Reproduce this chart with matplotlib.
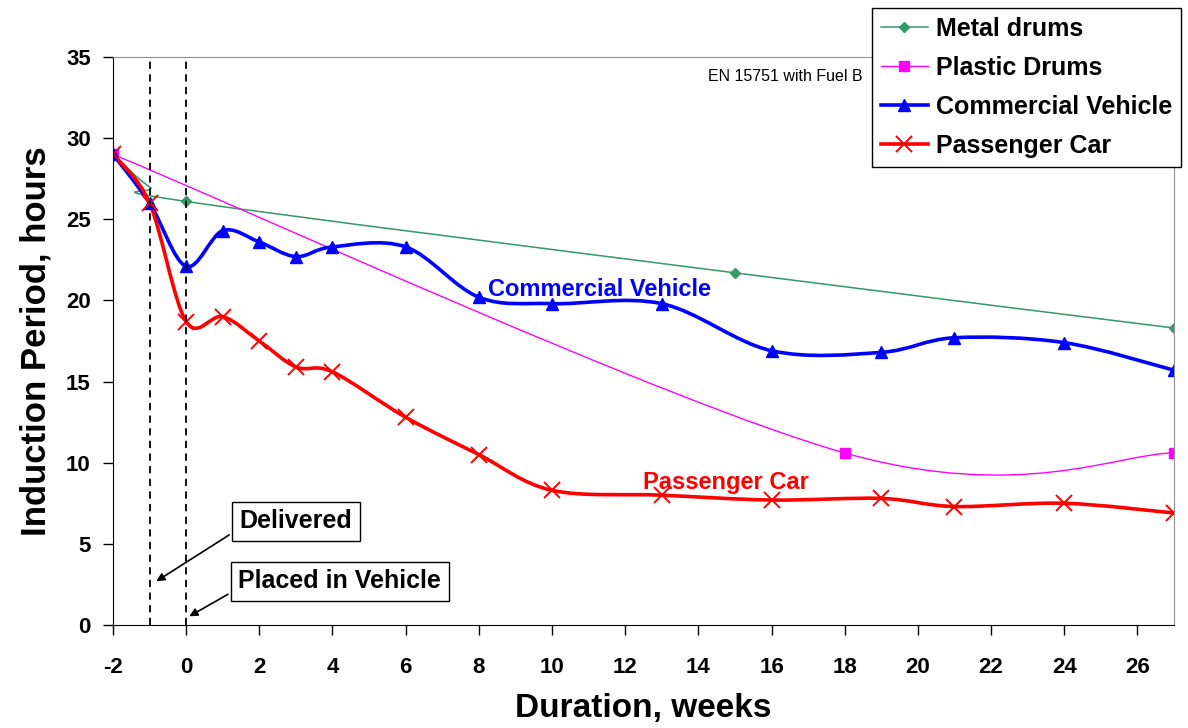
import matplotlib
matplotlib.use("Agg")
import matplotlib.pyplot as plt
from matplotlib.path import Path
from matplotlib.patches import PathPatch
from matplotlib.lines import Line2D

plt.rcParams['font.family'] = ['Liberation Sans', 'DejaVu Sans']
plt.rcParams['axes.unicode_minus'] = False

# data
metal_x = [-2, -1, 0, 15, 27]
metal_y = [29.0, 27.0, 26.1, 21.7, 18.3]

plastic_x = [-2, 18, 27]
plastic_y = [29.0, 10.6, 10.6]

commercial_x = [-2, -1, 0, 1, 2, 3, 4, 6, 8, 10, 13, 16, 19, 21, 24, 27]
commercial_y = [29.0, 26.0, 22.1, 24.3, 23.6, 22.7, 23.3, 23.3, 20.2, 19.8,
                19.8, 16.9, 16.8, 17.7, 17.4, 15.7]

passenger_x = [-2, -1, 0, 1, 2, 3, 4, 6, 8, 10, 13, 16, 19, 21, 24, 27]
passenger_y = [29.0, 26.0, 18.7, 19.0, 17.5, 15.9, 15.6, 12.8, 10.5, 8.3,
               8.0, 7.7, 7.8, 7.3, 7.5, 6.9]

xticks = list(range(-2, 27, 2))
yticks = list(range(0, 36, 5))


def smooth_path(xs, ys):
    # excel-style smoothed line: cubic bezier segments through the points
    n = len(xs)
    verts = [(xs[0], ys[0])]
    codes = [Path.MOVETO]
    for i in range(n - 1):
        a = max(i - 1, 0)
        b = min(i + 2, n - 1)
        c1 = (xs[i] + (xs[i + 1] - xs[a]) / 6.0, ys[i] + (ys[i + 1] - ys[a]) / 6.0)
        c2 = (xs[i + 1] - (xs[b] - xs[i]) / 6.0, ys[i + 1] - (ys[b] - ys[i]) / 6.0)
        verts += [c1, c2, (xs[i + 1], ys[i + 1])]
        codes += [Path.CURVE4, Path.CURVE4, Path.CURVE4]
    return Path(verts, codes)


fig = plt.figure(figsize=(11.88, 7.28), dpi=100)
ax = fig.add_axes([0.0951, 0.1415, 0.8931, 0.7802])

series = [
    (metal_x, metal_y, '#339966', 1.1, 'D', 5, 'Metal drums', [0, 2, 3, 4]),
    (plastic_x, plastic_y, '#FF00FF', 1.0, 's', 6.5, 'Plastic Drums', None),
    (commercial_x, commercial_y, '#0000FF', 2.6, '^', 8, 'Commercial Vehicle', None),
    (passenger_x, passenger_y, '#FF0000', 2.6, 'x', 12, 'Passenger Car', None),
]

handles = []
for xs, ys, col, lw, mk, ms, name, every in series:
    ax.add_patch(PathPatch(smooth_path(xs, ys), facecolor='none', edgecolor=col,
                           lw=lw, capstyle='round', joinstyle='round'))
    ax.plot(xs, ys, linestyle='none', marker=mk, markersize=ms, color=col,
            markeredgewidth=1.4 if mk == 'x' else 1.0, markevery=every)
    handles.append(Line2D([], [], color=col, lw=lw, marker=mk, markersize=ms,
                          markeredgewidth=1.4 if mk == 'x' else 1.0, label=name))

# dashed event lines
ax.axvline(-1, color='black', ls=(0, (4, 3)), lw=1.3)
ax.axvline(0, color='black', ls=(0, (4, 3)), lw=1.3)

ax.set_xlim(-2, 27)
ax.set_ylim(0, 35)
ax.set_xticks(xticks)
ax.set_yticks(yticks)
ax.tick_params(labelsize=16, length=7, width=1)
ax.tick_params(axis='x', pad=16)
ax.tick_params(axis='y', pad=9)
for lab in ax.get_xticklabels() + ax.get_yticklabels():
    lab.set_fontweight('bold')

ax.spines['left'].set_color('black')
ax.spines['bottom'].set_color('black')
ax.spines['top'].set_color('#909090')
ax.spines['right'].set_color('#909090')

ax.set_xlabel('Duration, weeks', fontsize=24, fontweight='bold', labelpad=11)
ax.set_ylabel('Induction Period, hours', fontsize=25, fontweight='bold', labelpad=10)

ax.text(18.5, 33.8, 'EN 15751 with Fuel B', fontsize=11.5, ha='right', va='center')
ax.text(11.3, 20.7, 'Commercial Vehicle', color='#0000FF', fontsize=17,
        fontweight='bold', ha='center', va='center')
ax.text(14.75, 8.8, 'Passenger Car', color='#FF0000', fontsize=17,
        fontweight='bold', ha='center', va='center')

box = dict(boxstyle='square,pad=0.3', facecolor='white', edgecolor='black', lw=1)
ax.annotate('Delivered', xy=(-0.88, 2.6), xytext=(3.0, 6.4), fontsize=18,
            fontweight='bold', ha='center', va='center', bbox=box,
            arrowprops=dict(arrowstyle='-|>', color='black', lw=1.2,
                            mutation_scale=12, relpos=(0.0, 0.2)))
ax.annotate('Placed in Vehicle', xy=(0.02, 0.45), xytext=(4.2, 2.7), fontsize=18,
            fontweight='bold', ha='center', va='center', bbox=box,
            arrowprops=dict(arrowstyle='-|>', color='black', lw=1.2,
                            mutation_scale=12, relpos=(0.0, 0.2)))

leg = fig.legend(handles=handles, loc='upper left', bbox_to_anchor=(0.734, 0.989),
                 borderaxespad=0, prop={'weight': 'bold', 'size': 18}, frameon=True,
                 fancybox=False, edgecolor='black', framealpha=1, handlelength=1.9,
                 labelspacing=0.6, borderpad=0.35, handletextpad=0.3)
leg.get_frame().set_linewidth(1.0)

fig.savefig('out.png', dpi=100)
